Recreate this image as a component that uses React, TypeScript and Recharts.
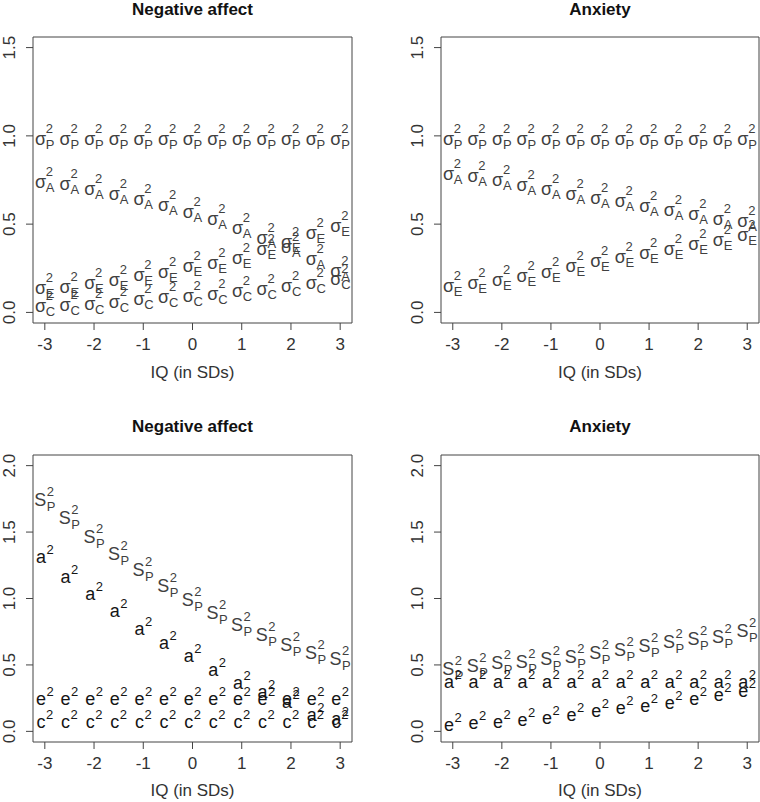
import React from "react";
import { ScatterChart, Scatter, XAxis, YAxis, ReferenceArea } from "recharts";

const FONT = "'Liberation Sans', Arial, Helvetica, sans-serif";

const IQ = [-3, -2.5, -2, -1.5, -1, -0.5, 0, 0.5, 1, 1.5, 2, 2.5, 3];
const X_TICKS = [-3, -2, -1, 0, 1, 2, 3];
const TOP_Y_TICKS = [0, 0.5, 1, 1.5];
const BOTTOM_Y_TICKS = [0, 0.5, 1, 1.5, 2];

// standardized components (top row)
const naSigmaP = [1, 1, 1, 1, 1, 1, 1, 1, 1, 1, 1, 1, 1];
const naSigmaA = [0.76, 0.745, 0.72, 0.69, 0.66, 0.63, 0.59, 0.55, 0.5, 0.44, 0.39, 0.32, 0.255];
const naSigmaC = [0.058, 0.063, 0.07, 0.078, 0.095, 0.105, 0.11, 0.125, 0.14, 0.155, 0.17, 0.185, 0.21];
const naSigmaE = [0.16, 0.165, 0.185, 0.205, 0.23, 0.25, 0.28, 0.3, 0.33, 0.38, 0.42, 0.47, 0.51];

const axSigmaP = [1, 1, 1, 1, 1, 1, 1, 1, 1, 1, 1, 1, 1];
const axSigmaA = [0.805, 0.79, 0.77, 0.74, 0.72, 0.69, 0.67, 0.65, 0.62, 0.6, 0.575, 0.55, 0.535];
const axSigmaE = [0.17, 0.185, 0.205, 0.225, 0.25, 0.28, 0.31, 0.335, 0.355, 0.38, 0.405, 0.43, 0.46];

// unstandardized components (bottom row)
const naSP = [1.75, 1.61, 1.47, 1.34, 1.22, 1.1, 1.0, 0.9, 0.81, 0.73, 0.66, 0.6, 0.555];
const naA = [1.34, 1.19, 1.06, 0.93, 0.8, 0.69, 0.59, 0.49, 0.39, 0.32, 0.25, 0.15, 0.12];
const naC = [0.1, 0.1, 0.1, 0.1, 0.1, 0.1, 0.1, 0.1, 0.1, 0.1, 0.1, 0.1, 0.1];
const naE = [0.27, 0.27, 0.27, 0.27, 0.27, 0.27, 0.27, 0.27, 0.27, 0.27, 0.27, 0.27, 0.27];

const axSP = [0.48, 0.5, 0.52, 0.53, 0.55, 0.57, 0.6, 0.62, 0.65, 0.68, 0.7, 0.72, 0.76];
const axA = [0.4, 0.4, 0.4, 0.4, 0.4, 0.4, 0.4, 0.4, 0.4, 0.4, 0.4, 0.4, 0.4];
const axE = [0.075, 0.086, 0.1, 0.11, 0.125, 0.15, 0.18, 0.2, 0.22, 0.24, 0.27, 0.3, 0.33];

const toPoints = (ys: number[]) => IQ.map((x, i) => ({ x, y: ys[i] }));

const BASE_W: Record<string, number> = { "σ": 10.4, S: 12, a: 10, c: 9, e: 10 };

function MathLabel({ cx, cy, base, sub }: { cx: number; cy: number; base: string; sub?: string }) {
  const bw = BASE_W[base];
  const sw = sub ? 8.8 : 7.2;
  const left = cx - (bw + sw + 0.5) / 2;
  const off =
    base === "σ" ? { b: 9.5, sp: -2.5, sb: 13.5 } : base === "S" ? { b: 7, sp: -3, sb: 12 } : { b: 9.5, sp: 0.5, sb: 0 };
  const color = base === "σ" || base === "S" ? "#404040" : "#151515";
  return (
    <g fill={color} fontFamily={FONT}>
      <text x={left} y={cy + off.b} fontSize={18}>{base}</text>
      <text x={left + bw + 0.5} y={cy + off.sp} fontSize={13}>2</text>
      {sub && <text x={left + bw + 0.5} y={cy + off.sb} fontSize={13}>{sub}</text>}
    </g>
  );
}

function YTick({ x, y, payload }: any) {
  return (
    <text x={x} y={y} transform={`rotate(-90, ${x}, ${y})`} textAnchor="middle" fontSize={17} fill="#333" fontFamily={FONT}>
      {Number(payload.value).toFixed(1)}
    </text>
  );
}

interface SeriesDef { data: number[]; base: string; sub?: string }

interface PanelProps {
  title: string;
  left: number;
  top: number;
  width: number;
  height: number;
  margin: { top: number; right: number; bottom: number; left: number };
  yMax: number;
  yTicks: number[];
  series: SeriesDef[];
  titleY: number;
  labelY: number;
}

function Panel({ title, left, top, width, height, margin, yMax, yTicks, series, titleY, labelY }: PanelProps) {
  const pad = yMax * 0.04;
  const plotLeft = margin.left + 33;
  const plotRight = width - margin.right;
  const cx = (plotLeft + plotRight) / 2;
  return (
    <div style={{ position: "absolute", left, top }}>
      <ScatterChart width={width} height={height} margin={margin}>
        <XAxis
          type="number"
          dataKey="x"
          domain={[-3.24, 3.24]}
          allowDataOverflow
          ticks={X_TICKS}
          interval={0}
          height={30}
          tickSize={7}
          tickMargin={8}
          axisLine={false}
          tickLine={{ stroke: "#444" }}
          tick={{ fontSize: 17, fill: "#333", fontFamily: FONT }}
        />
        <YAxis
          type="number"
          dataKey="y"
          domain={[-pad, yMax + pad]}
          allowDataOverflow
          ticks={yTicks}
          interval={0}
          width={33}
          tickSize={7}
          tickMargin={11}
          axisLine={false}
          tickLine={{ stroke: "#444" }}
          tick={<YTick />}
        />
        <ReferenceArea x1={-3.24} x2={3.24} y1={-pad} y2={yMax + pad} fill="none" stroke="#444" strokeOpacity={1} />
        {series.map((s, i) => (
          <Scatter
            key={i}
            data={toPoints(s.data)}
            isAnimationActive={false}
            shape={(p: any) => <MathLabel cx={p.cx} cy={p.cy} base={s.base} sub={s.sub} />}
          />
        ))}
        <text x={cx} y={titleY} textAnchor="middle" fontSize={17} fontWeight="bold" fill="#111" fontFamily={FONT}>
          {title}
        </text>
        <text x={cx} y={labelY} textAnchor="middle" fontSize={17} fill="#333" fontFamily={FONT}>
          IQ (in SDs)
        </text>
      </ScatterChart>
    </div>
  );
}

export default function App() {
  const topMarginL = { top: 37, right: 28, bottom: 47, left: 0 };
  const topMarginR = { top: 37, right: 1, bottom: 47, left: 0 };
  const botMarginL = { top: 55, right: 28, bottom: 30, left: 0 };
  const botMarginR = { top: 55, right: 1, bottom: 30, left: 0 };
  return (
    <div style={{ position: "absolute", left: 0, top: 0, width: 760, height: 802, background: "#fff" }}>
      <Panel
        title="Negative affect"
        left={0}
        top={0}
        width={380}
        height={400}
        margin={topMarginL}
        yMax={1.5}
        yTicks={TOP_Y_TICKS}
        titleY={14.5}
        labelY={378}
        series={[
          { data: naSigmaP, base: "σ", sub: "P" },
          { data: naSigmaA, base: "σ", sub: "A" },
          { data: naSigmaC, base: "σ", sub: "C" },
          { data: naSigmaE, base: "σ", sub: "E" },
        ]}
      />
      <Panel
        title="Anxiety"
        left={408}
        top={0}
        width={352}
        height={400}
        margin={topMarginR}
        yMax={1.5}
        yTicks={TOP_Y_TICKS}
        titleY={14.5}
        labelY={378}
        series={[
          { data: axSigmaP, base: "σ", sub: "P" },
          { data: axSigmaA, base: "σ", sub: "A" },
          { data: axSigmaE, base: "σ", sub: "E" },
        ]}
      />
      <Panel
        title="Negative affect"
        left={0}
        top={400}
        width={380}
        height={402}
        margin={botMarginL}
        yMax={2}
        yTicks={BOTTOM_Y_TICKS}
        titleY={32}
        labelY={396}
        series={[
          { data: naSP, base: "S", sub: "P" },
          { data: naA, base: "a" },
          { data: naE, base: "e" },
          { data: naC, base: "c" },
        ]}
      />
      <Panel
        title="Anxiety"
        left={408}
        top={400}
        width={352}
        height={402}
        margin={botMarginR}
        yMax={2}
        yTicks={BOTTOM_Y_TICKS}
        titleY={32}
        labelY={396}
        series={[
          { data: axSP, base: "S", sub: "P" },
          { data: axA, base: "a" },
          { data: axE, base: "e" },
        ]}
      />
    </div>
  );
}
